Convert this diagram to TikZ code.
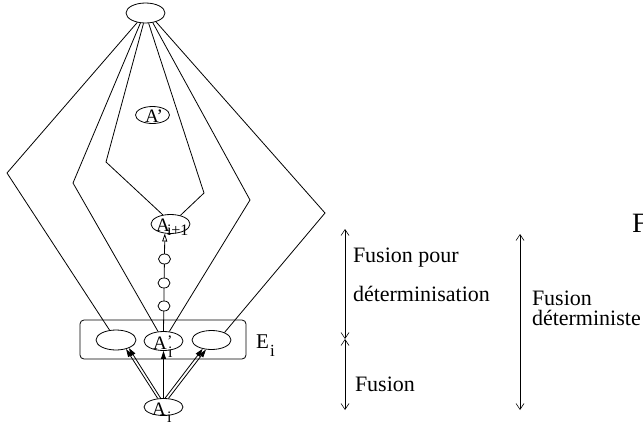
\documentclass[tikz,border=0pt]{standalone}
\usepackage{fontspec}
\setmainfont{Liberation Serif}
\usetikzlibrary{arrows.meta,shapes.geometric}
\newcommand\sizeA{\fontsize{19}{21}\selectfont}
\newcommand\sizeSub{\fontsize{16}{18}\selectfont}
\newcommand\sizeTxt{\fontsize{22}{24}\selectfont}
\begin{document}
\begin{tikzpicture}[x=1pt,y=-1pt,line width=0.8pt,
  oval/.style={draw,ellipse,inner sep=0pt,fill=white},
  dot/.style={draw,ellipse,inner sep=0pt,fill=white,minimum width=12pt,minimum height=10pt},
  txt/.style={anchor=base west,inner sep=0pt,outer sep=0pt},
  fill arrow/.style={-{Triangle[length=8pt,width=5pt]}},
  open arrow/.style={-{Triangle[open,length=8pt,width=5pt]}},
  span arrow/.style={{Straight Barb[length=6pt,width=8pt]}-{Straight Barb[length=6pt,width=8pt]},line width=0.6pt}]
\useasboundingbox (0,0) rectangle (643,423);
\begin{scope}
\clip (0,0) rectangle (643,423);

% group box E_i
\node[draw,rounded corners=4pt,minimum width=166pt,minimum height=39pt,inner sep=0pt] (ebox) at (163,339.5) {};

% states
\node[oval,minimum width=39pt,minimum height=20pt] (top) at (145.5,13) {};
\node[oval,minimum width=34pt,minimum height=17pt] (aprime) at (152.5,115) {};
\node[oval,minimum width=39pt,minimum height=19pt] (anext) at (170.5,224) {};
\node[oval,minimum width=40pt,minimum height=20pt] (el) at (116,340) {};
\node[oval,minimum width=39pt,minimum height=19pt] (em) at (163.5,341) {};
\node[oval,minimum width=39pt,minimum height=19pt] (er) at (211.5,340) {};
\node[oval,minimum width=39pt,minimum height=17pt] (ai) at (163.5,407) {};

% bend points of the outer paths
\coordinate (v1) at (7,173);
\coordinate (v2) at (73,183);
\coordinate (v3) at (106,162);
\coordinate (v4) at (204,193);
\coordinate (v5) at (250,200);
\coordinate (v6) at (325,213);

\draw (top.229) -- (v1) -- (el);
\draw (top.243) -- (v2) -- (em);
\draw (top.259) -- (v3) -- (anext.130);
\draw (top.287) -- (v4) -- (anext.41);
\draw (top.307) -- (v5) -- (em);
\draw (top.320) -- (v6) -- (er.30);

% chain from A'_i up to A_{i+1}
\draw[open arrow] (em.north) -- (anext.-121);
\node[dot] (c1) at (164.5,259) {};
\node[dot] (c2) at (164,283) {};
\node[dot] (c3) at (164,306) {};

% transitions from A_i into E_i
\draw[fill arrow] (ai.124) -- (el.-42);
\draw[fill arrow] (ai.108) -- (el.-32);
\draw[fill arrow] (ai.north) -- (em.south);
\draw[fill arrow] (ai.80) -- (er.-135);
\draw[fill arrow] (ai.60) -- (er.-120);

% labels of the states
\node[txt] (tA1) at (145,122) {\sizeA A’};
\node[txt] (tA2) at (156,231) {\sizeA A};
\node[txt] (tA2s) at (167,235) {\sizeSub i+1};
\node[txt] (tA3) at (153,349) {\sizeA A};
\node[txt] (tA3p) at (167,346) {\sizeSub ’};
\node[txt] (tA3s) at (168,357) {\sizeSub i};
\node[txt] (tA4) at (152,415) {\sizeA A};
\node[txt] (tA4s) at (167,422) {\sizeSub i};
\node[txt] (tE) at (256,348) {\fontsize{21}{23}\selectfont E};
\node[txt] (tEs) at (270,356) {\fontsize{17}{19}\selectfont i};

% phase markers
\coordinate (l1) at (345,229);
\coordinate (lm) at (345,339);
\coordinate (l2) at (345,410);
\coordinate (r1) at (520,234);
\coordinate (r2) at (520,410);
\draw[span arrow] (l1) -- (lm);
\draw[span arrow] (lm) -- (l2);
\draw[span arrow] (r1) -- (r2);

\node[txt] (t1) at (353,262) {\sizeTxt Fusion pour};
\node[txt] (t2) at (353,301) {\sizeTxt déterminisation};
\node[txt] (t3) at (355,391) {\sizeTxt Fusion};
\node[txt] (t4) at (532,305) {\sizeTxt Fusion};
\node[txt] (t5) at (532,325) {\sizeTxt déterministe};
\node[txt] (t6) at (632,232) {\fontsize{28}{30}\selectfont F};
\end{scope}
\end{tikzpicture}
\end{document}
